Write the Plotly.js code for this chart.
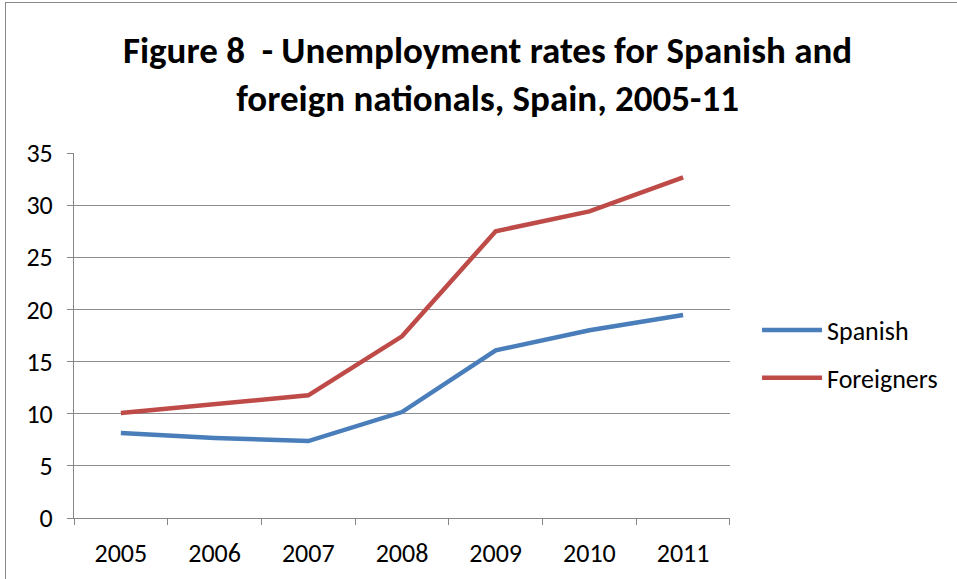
<!DOCTYPE html>
<html>
<head>
<meta charset="utf-8">
<script src="https://cdn.plot.ly/plotly-3.0.1.min.js"></script>
<style>
  html, body { margin: 0; padding: 0; background: #fff; }
  #wrap { position: relative; width: 957px; height: 579px; overflow: hidden; }
  #chart { position: absolute; left: 0; top: 0; width: 957px; height: 579px; }
  #frame { position: absolute; left: 5px; top: 2px; width: 1000px; height: 700px;
           border-top: 1px solid #8a8a8a; border-left: 1px solid #8a8a8a; pointer-events: none; }
</style>
</head>
<body>
<div id="wrap">
  <div id="chart"></div>
  <div id="frame"></div>
</div>
<script>
const years = ['2005', '2006', '2007', '2008', '2009', '2010', '2011'];
const spanish = [8.15, 7.67, 7.38, 10.16, 16.08, 18.0, 19.46];
const foreigners = [10.07, 10.87, 11.76, 17.42, 27.5, 29.4, 32.66];
const yTicks = [0, 5, 10, 15, 20, 25, 30, 35];
const titleText = '<b>Figure 8&nbsp; - Unemployment rates for Spanish and<br>foreign nationals, Spain, 2005-11</b>';

const FONT = 'Carlito, Calibri, "Open Sans", sans-serif';

const traces = [
  { x: years, y: spanish, name: 'Spanish', type: 'scatter', mode: 'lines',
    line: { color: '#4a7ebb', width: 4.5 }, legend: 'legend' },
  { x: years, y: foreigners, name: 'Foreigners', type: 'scatter', mode: 'lines',
    line: { color: '#be4b48', width: 4.5 }, legend: 'legend2' }
];

const legendBase = {
  x: 0.7824, xanchor: 'left', yanchor: 'middle',
  font: { family: FONT, size: 26, color: '#000' },
  bgcolor: 'rgba(0,0,0,0)', borderwidth: 0, itemwidth: 60
};

const layout = {
  width: 957, height: 579,
  margin: { l: 74, r: 10, t: 153, b: 61 },
  paper_bgcolor: 'rgba(0,0,0,0)',
  plot_bgcolor: 'rgba(0,0,0,0)',
  font: { family: FONT, size: 26, color: '#000' },
  annotations: [{
    text: titleText, showarrow: false,
    xref: 'paper', yref: 'paper', x: 0.4742, y: 1.2137,
    xanchor: 'center', yanchor: 'middle', align: 'center',
    font: { family: FONT, size: 37, color: '#000' }
  }],
  xaxis: {
    domain: [0, 0.7514],
    type: 'category', categoryarray: years,
    tickson: 'boundaries', ticks: 'outside', ticklen: 6, tickcolor: '#868686',
    showline: true, linecolor: '#868686', linewidth: 1,
    showgrid: false, zeroline: false,
    tickfont: { family: FONT, size: 26, color: '#000' },
    ticklabelstandoff: 12,
    range: [-0.5, 6.5], fixedrange: true
  },
  yaxis: {
    range: [0, 35], tickvals: yTicks, ticktext: yTicks.map(String),
    ticks: 'outside', ticklen: 6, tickcolor: '#868686',
    showline: true, linecolor: '#868686', linewidth: 1,
    showgrid: true, gridcolor: '#8c8c8c', gridwidth: 1,
    zeroline: false,
    tickfont: { family: FONT, size: 26, color: '#000' },
    ticklabelstandoff: 9
  },
  legend: Object.assign({}, legendBase, { y: 0.515 }),
  legend2: Object.assign({}, legendBase, { y: 0.384 }),
  showlegend: true
};

Plotly.newPlot('chart', traces, layout, { displayModeBar: false, staticPlot: true });
</script>
</body>
</html>
